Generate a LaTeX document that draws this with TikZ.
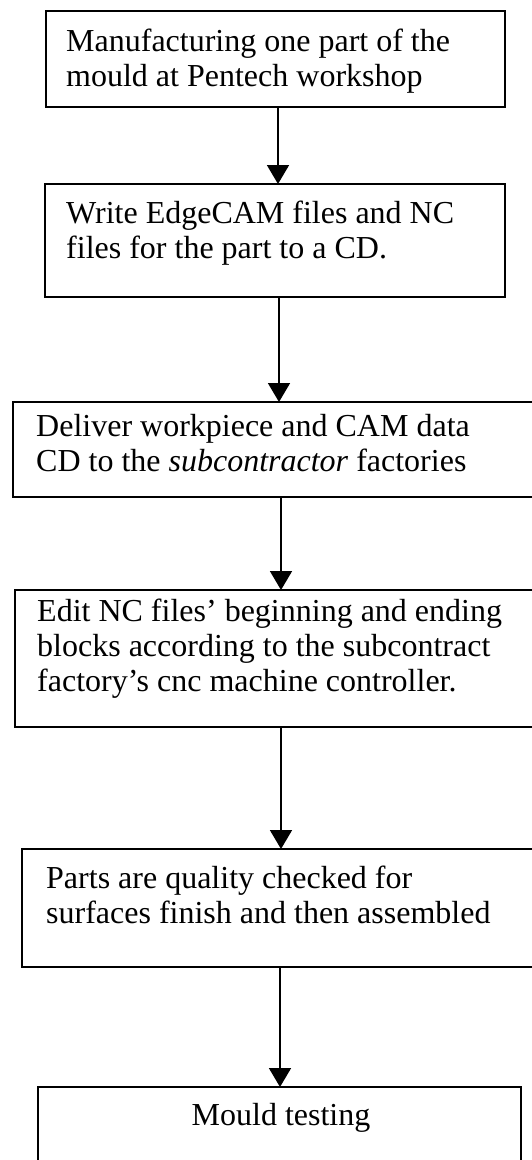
\documentclass[tikz,border=0pt]{standalone}
\usepackage{fontspec}
\setmainfont{Liberation Serif}
\usetikzlibrary{arrows.meta}
\begin{document}
\begin{tikzpicture}[x=1pt,y=-1pt,
  box/.style={draw,line width=1.6pt,rectangle,inner sep=0pt,outer sep=0pt},
  txt/.style={anchor=north west,inner sep=0pt,align=left,font=\fontsize{32}{35}\selectfont},
  arr/.style={line width=1.8pt,-{Triangle[width=22pt,length=19pt]}}]
\useasboundingbox (0,0) rectangle (532,1160);
\clip (0,0) rectangle (532,1160);
% boxes
\node[box,minimum width=459pt,minimum height=96pt]  (b1) at (275.5,59) {};
\node[box,minimum width=460pt,minimum height=113pt] (b2) at (275,240.5) {};
\node[box,minimum width=532pt,minimum height=95pt]  (b3) at (279,449.5) {};
\node[box,minimum width=530pt,minimum height=137pt] (b4) at (280,658.5) {};
\node[box,minimum width=523pt,minimum height=118pt] (b5) at (283.5,908) {};
\node[box,minimum width=483pt,minimum height=90pt]  (b6) at (279.5,1132) {};
% texts
\node[txt] (t1) at (66,26.5) {\strut Manufacturing one part of the\\mould at Pentech workshop};
\node[txt] (t2) at (66,198.5) {\strut Write EdgeCAM files and NC\\files for the part to a CD.};
\node[txt] (t3) at (36,411.5) {\strut Deliver workpiece and CAM data\\CD to the \textit{subcontractor} factories};
\node[txt] (t4) at (37,596.5) {\strut Edit NC files’ beginning and ending\\blocks according to the subcontract\\factory’s cnc machine controller.};
\node[txt] (t5) at (46,863.5) {\strut Parts are quality checked for\\surfaces finish and then assembled};
\node[anchor=base,inner sep=0pt,font=\fontsize{32}{35}\selectfont] (t6) at (281,1125) {Mould testing};
% arrow columns
\coordinate (c1) at (278,0);
\coordinate (c2) at (279,0);
\coordinate (c3) at (281,0);
\coordinate (c4) at (281,0);
\coordinate (c5) at (280,0);
\draw[arr] (b1.south -| c1) -- (b2.north -| c1);
\draw[arr] (b2.south -| c2) -- (b3.north -| c2);
\draw[arr] (b3.south -| c3) -- (b4.north -| c3);
\draw[arr] (b4.south -| c4) -- (b5.north -| c4);
\draw[arr] (b5.south -| c5) -- (b6.north -| c5);
\end{tikzpicture}
\end{document}
